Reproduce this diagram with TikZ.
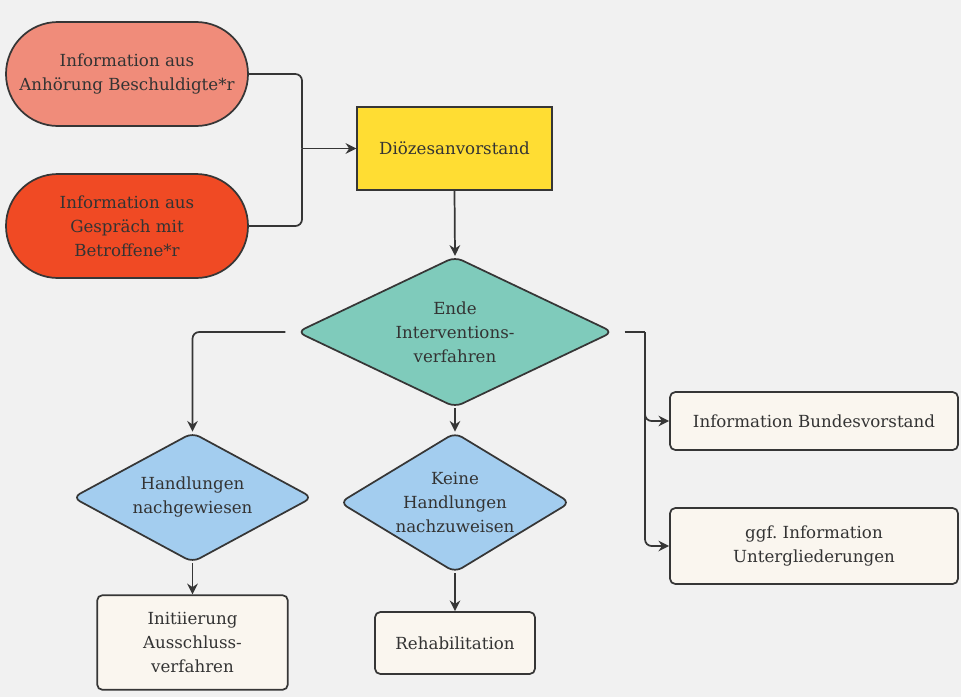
\documentclass[tikz,border=0pt]{standalone}
\usepackage{fontspec}
\setmainfont{DejaVu Serif}
\usetikzlibrary{shapes.geometric,arrows.meta}
\definecolor{bg}{HTML}{F1F1F1}
\definecolor{ln}{HTML}{363636}
\definecolor{tx}{HTML}{333333}
\definecolor{salmon}{HTML}{F08C7A}
\definecolor{redor}{HTML}{F04A24}
\definecolor{yel}{HTML}{FFDD33}
\definecolor{grn}{HTML}{7FCBBB}
\definecolor{blu}{HTML}{A3CDEF}
\definecolor{crm}{HTML}{FAF6EF}
\frenchspacing
\tikzset{
  base/.style={draw=ln, line width=1.3pt, text=tx, align=center, inner sep=0pt,
    font=\fontsize{12.5}{18}\selectfont},
  stadium/.style={base, rectangle, rounded corners=39pt, minimum width=181.5pt, minimum height=78pt},
  ybox/.style={base, rectangle, fill=yel, minimum width=146pt, minimum height=62pt},
  cbox/.style={base, rectangle, rounded corners=4pt, fill=crm},
  dia/.style={base, diamond, rounded corners=6pt},
  lbl/.style={text=tx, align=center, inner sep=0pt, font=\fontsize{12.5}{18}\selectfont},
  conn/.style={draw=ln, line width=1.3pt, rounded corners=5pt, -{Stealth[length=8pt,width=8pt]}},
  plain/.style={draw=ln, line width=1.3pt, rounded corners=5pt},
}
\begin{document}
\begin{tikzpicture}[x=0.75pt,y=-0.75pt]
\fill[bg] (0,0) rectangle (961,697);
\useasboundingbox (0,0) rectangle (961,697);

\node[stadium, fill=salmon] (s1) at (127,74) {Information aus\\Anhörung Beschuldigte*r};
\node[stadium, fill=redor] (s2) at (127,226) {Information aus\\Gespräch mit\\Betroffene*r};
\node[ybox] (dv) at (454.5,148.5) {Diözesanvorstand};

\node[dia, fill=grn, minimum width=237pt, minimum height=113pt] (g) at (455,332) {};
\node[lbl] (gt) at (g.center) {Ende\\Interventions-\\verfahren};
\node[dia, fill=blu, minimum width=180pt, minimum height=97.5pt] (h1) at (192.5,497.5) {};
\node[lbl] (h1t) at (h1.center) {Handlungen\\nachgewiesen};
\node[dia, fill=blu, minimum width=173pt, minimum height=105pt] (h2) at (455,502.5) {};
\node[lbl] (h2t) at (h2.center) {Keine\\Handlungen\\nachzuweisen};

\node[cbox, minimum width=143pt, minimum height=71pt] (aus) at (192.5,642.5) {Initiierung\\Ausschluss-\\verfahren};
\node[cbox, minimum width=120pt, minimum height=46.5pt] (reh) at (455,643) {Rehabilitation};
\node[cbox, minimum width=216pt, minimum height=43.5pt] (ib) at (814,421) {Information Bundesvorstand};
\node[cbox, minimum width=216pt, minimum height=57pt] (ug) at (814,546) {ggf. Information\\Untergliederungen};

\coordinate (mj) at (302,148.5);
\coordinate (rj) at (645,332);
\coordinate (lj) at (192.5,332);

\draw[plain] (s1.east) -| (mj);
\draw[plain] (s2.east) -| (mj);
\draw[conn] (mj) -- (dv.west);
\draw[conn] (dv.south) -- (g.north);
\draw[conn] (g.south) -- (h2.north);
\draw[conn, shorten <=8pt] (g.west) -- (lj) -- (h1.north);
\draw[plain, shorten <=8pt] (g.east) -- (rj);
\draw[conn] (rj) |- (ib.west);
\draw[conn] (rj) |- (ug.west);
\draw[conn] (h1.south) -- (aus.north);
\draw[conn] (h2.south) -- (reh.north);
\end{tikzpicture}
\end{document}
